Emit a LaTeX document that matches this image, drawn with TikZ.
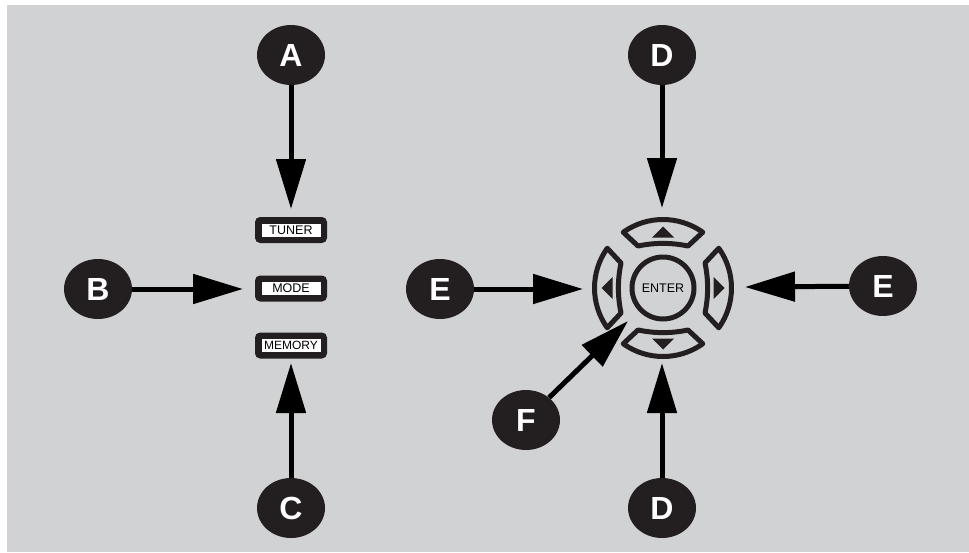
\documentclass[tikz,border=0pt]{standalone}
\usepackage{fontspec}
\setmainfont{Liberation Sans}
\usetikzlibrary{arrows.meta,shapes.geometric}
\definecolor{panelgray}{RGB}{209,210,212}
\definecolor{ink}{RGB}{35,31,32}
\tikzset{
  badge/.style={ellipse, fill=ink, text=white, minimum width=68pt, minimum height=60pt, inner sep=0pt, font=\fontsize{32}{32}\selectfont\bfseries},
  pointer/.style={line width=5pt, -{Triangle[length=50pt,width=29pt]}},
  button/.style={rectangle, rounded corners=5pt, fill=ink, minimum width=72pt, minimum height=26pt, inner sep=0pt},
  btnlabel/.style={fill=white, minimum width=59pt, minimum height=13pt, inner sep=0pt, font=\fontsize{12.5}{12.5}\selectfont},
  keyrim/.style={draw=ink, line width=5pt, line join=round},
}
\begin{document}
\begin{tikzpicture}[x=1pt,y=-1pt]
        \useasboundingbox (0,0) rectangle (969,552);
        \fill[white] (0,0) rectangle (969,552);
        \fill[panelgray] (7,5) rectangle (969,552);
        % buttons
        \node[button] (tuner) at (291,230) {};
        \node[btnlabel] (tunerlbl) at (tuner) {TUNER};
        \node[button] (mode) at (291,288.5) {};
        \node[btnlabel] (modelbl) at (mode) {MODE};
        \node[button] (memory) at (291,345.5) {};
        \node[btnlabel, font=\fontsize{12}{12}\selectfont] (memorylbl) at (memory) {MEMORY};
        % cursor pad
        \node[circle, keyrim, minimum size=62pt, inner sep=0pt, font=\fontsize{12.5}{12.5}\selectfont] (enter) at (663,288) {ENTER};
        \foreach \r in {0,90,180,270}{
          \begin{scope}[shift={(663,288)}, rotate=\r]
            \draw[keyrim] (-125.5:68.5) arc[start angle=-125.5, end angle=-54.5, radius=68.5] -- (25,-42) .. controls (8,-45.5) and (-8,-45.5) .. (-25,-42) -- cycle;
            \fill[ink] (0,-61.5) -- (11,-50.5) -- (-11,-50.5) -- cycle;
          \end{scope}
        }
        % callouts
        \node[badge] (A) at (291,55) {A};
        \node[badge] (B) at (98,289) {B};
        \node[badge] (C) at (291,508) {C};
        \node[badge] (Dtop) at (662,55) {D};
        \node[badge] (Dbot) at (662,508) {D};
        \node[badge] (Eleft) at (440,289) {E};
        \node[badge] (Eright) at (883,286) {E};
        \node[badge] (F) at (526,420) {F};
        \coordinate (tipA) at (291,209);
        \coordinate (tipB) at (243,289);
        \coordinate (tipC) at (291,363);
        \coordinate (tipDtop) at (662,208);
        \coordinate (tipDbot) at (662,363);
        \coordinate (tipEleft) at (583,289);
        \coordinate (tipEright) at (745,287);
        \coordinate (tipF) at (628,321);
        \draw[pointer] (A) -- (tipA);
        \draw[pointer] (B) -- (tipB);
        \draw[pointer] (C) -- (tipC);
        \draw[pointer] (Dtop) -- (tipDtop);
        \draw[pointer] (Dbot) -- (tipDbot);
        \draw[pointer] (Eleft) -- (tipEleft);
        \draw[pointer] (Eright) -- (tipEright);
        \draw[pointer] (F) -- (tipF);
\end{tikzpicture}
\end{document}
